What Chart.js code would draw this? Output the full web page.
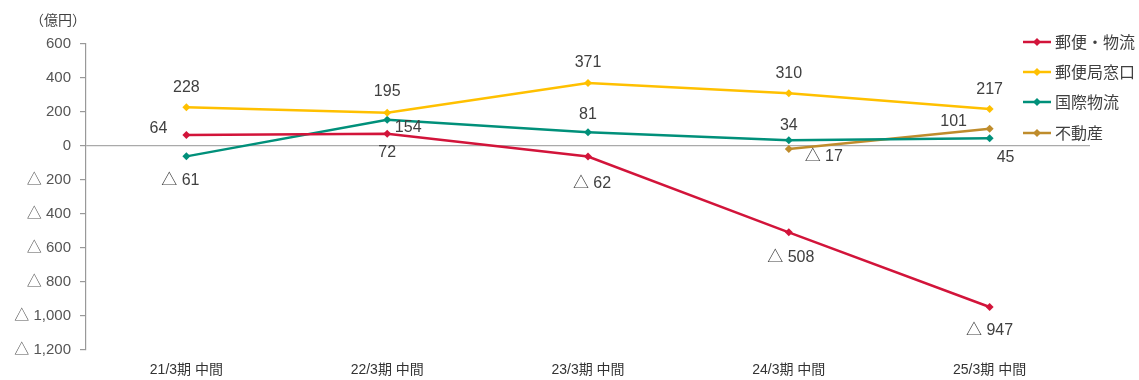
<!DOCTYPE html>
<html lang="ja">
<head>
<meta charset="utf-8">
<script src="https://cdn.jsdelivr.net/npm/chart.js@4.4.1/dist/chart.umd.min.js"></script>
<style>
  html, body { margin: 0; padding: 0; background: #fff; }
  #wrap { width: 1139px; height: 380px; position: relative; }
</style>
</head>
<body>
<div id="wrap"><canvas id="segChart"></canvas></div>
<script>
// ── 区分別 営業損益（億円） ──
const periods   = ["21/3期 中間", "22/3期 中間", "23/3期 中間", "24/3期 中間", "25/3期 中間"];
const yubin     = [64, 72, -62, -508, -947];     // 郵便・物流
const madoguchi = [228, 195, 371, 310, 217];     // 郵便局窓口
const kokusai   = [-61, 154, 81, 34, 45];        // 国際物流
const fudosan   = [null, null, null, -17, 101];  // 不動産
const yTicks    = [600, 400, 200, 0, -200, -400, -600, -800, -1000, -1200];

const NUM_FONT = "'Liberation Sans', Arial, 'Noto Sans CJK JP', sans-serif";
const JP_FONT  = "'Noto Sans CJK JP', 'Liberation Sans', sans-serif";
const MIX_FONT = "'Liberation Sans', 'Noto Sans CJK JP', sans-serif";

// negative values are written with a leading △
function fmt(v) {
  const s = Math.abs(v).toLocaleString("en-US");
  return v < 0 ? "△ " + s : s;
}

function makeDS(label, data, color, labelOff) {
  return {
    label, data,
    borderColor: color, backgroundColor: color,
    borderWidth: 2.5, tension: 0,
    pointStyle: "rectRot", pointRadius: 4, pointHoverRadius: 4,
    pointBorderWidth: 0, spanGaps: false,
    labelOff
  };
}

// value labels, offset from each point
const valueLabels = {
  id: "valueLabels",
  afterDatasetsDraw(chart) {
    const { ctx } = chart;
    ctx.save();
    ctx.font = "16px " + NUM_FONT;
    ctx.fillStyle = "#404040";
    ctx.textAlign = "center";
    ctx.textBaseline = "middle";
    chart.data.datasets.forEach((ds, i) => {
      const meta = chart.getDatasetMeta(i);
      meta.data.forEach((pt, j) => {
        const v = ds.data[j];
        if (v == null) return;
        const [dx, dy] = ds.labelOff[j];
        ctx.fillText(fmt(v), pt.x + dx, pt.y + dy);
      });
    });
    ctx.restore();
  }
};

// unit caption and legend on the right
const extras = {
  id: "extras",
  afterDraw(chart) {
    const { ctx } = chart;
    ctx.save();
    ctx.font = "14px " + JP_FONT;
    ctx.fillStyle = "#404040";
    ctx.textBaseline = "middle";
    ctx.textAlign = "left";
    ctx.fillText("（億円）", 30, 20);

    ctx.font = "16px " + JP_FONT;
    const rows = [42, 72, 102, 133];
    chart.data.datasets.forEach((ds, i) => {
      const y = rows[i];
      ctx.strokeStyle = ds.borderColor;
      ctx.lineWidth = 2.5;
      ctx.beginPath();
      ctx.moveTo(1023, y);
      ctx.lineTo(1051, y);
      ctx.stroke();
      ctx.fillStyle = ds.borderColor;
      ctx.beginPath();
      ctx.moveTo(1037, y - 4);
      ctx.lineTo(1041, y);
      ctx.lineTo(1037, y + 4);
      ctx.lineTo(1033, y);
      ctx.closePath();
      ctx.fill();
      ctx.fillStyle = "#404040";
      ctx.fillText(ds.label, 1055, y);
    });
    ctx.restore();
  }
};

const chart = new Chart(document.getElementById("segChart"), {
  type: "line",
  data: {
    labels: periods,
    datasets: [
      makeDS("郵便・物流", yubin, "#d2143a",
        [[-28, -7], [0, 19], [4, 27], [2, 25], [0, 24]]),
      makeDS("郵便局窓口", madoguchi, "#ffc000",
        [[0, -20], [0, -21], [0, -20], [0, -20], [0, -20]]),
      makeDS("国際物流", kokusai, "#00907a",
        [[-6, 24], [21, 8], [0, -18], [0, -15], [16, 19]]),
      makeDS("不動産", fudosan, "#bf8c2c",
        [null, null, null, [35, 8], [-36, -7]])
    ]
  },
  options: {
    responsive: true,
    maintainAspectRatio: false,
    animation: false,
    layout: { padding: { top: 44, right: 49, left: 0, bottom: 0 } },
    plugins: {
      legend: { display: false },
      tooltip: { enabled: false }
    },
    scales: {
      x: {
        offset: true,
        grid: { display: false },
        border: { display: false },
        ticks: { color: "#333", font: { family: MIX_FONT, size: 14 }, padding: 4, maxRotation: 0 },
        afterFit(scale) { scale.height = 30; }
      },
      y: {
        min: -1200, max: 600,
        afterBuildTicks(scale) { scale.ticks = yTicks.map(v => ({ value: v })); },
        grid: {
          color: c => (c.tick && c.tick.value === 0 ? "#aaaaaa" : "transparent"),
          tickColor: "#999",
          tickLength: 6,
          lineWidth: 1.2
        },
        border: { display: true, color: "#999", width: 1.2 },
        ticks: {
          color: "#555",
          font: { family: NUM_FONT, size: 15 },
          padding: 9,
          callback: v => fmt(v)
        },
        afterFit(scale) { scale.width = 86; }
      }
    }
  },
  plugins: [valueLabels, extras]
});
</script>
</body>
</html>
